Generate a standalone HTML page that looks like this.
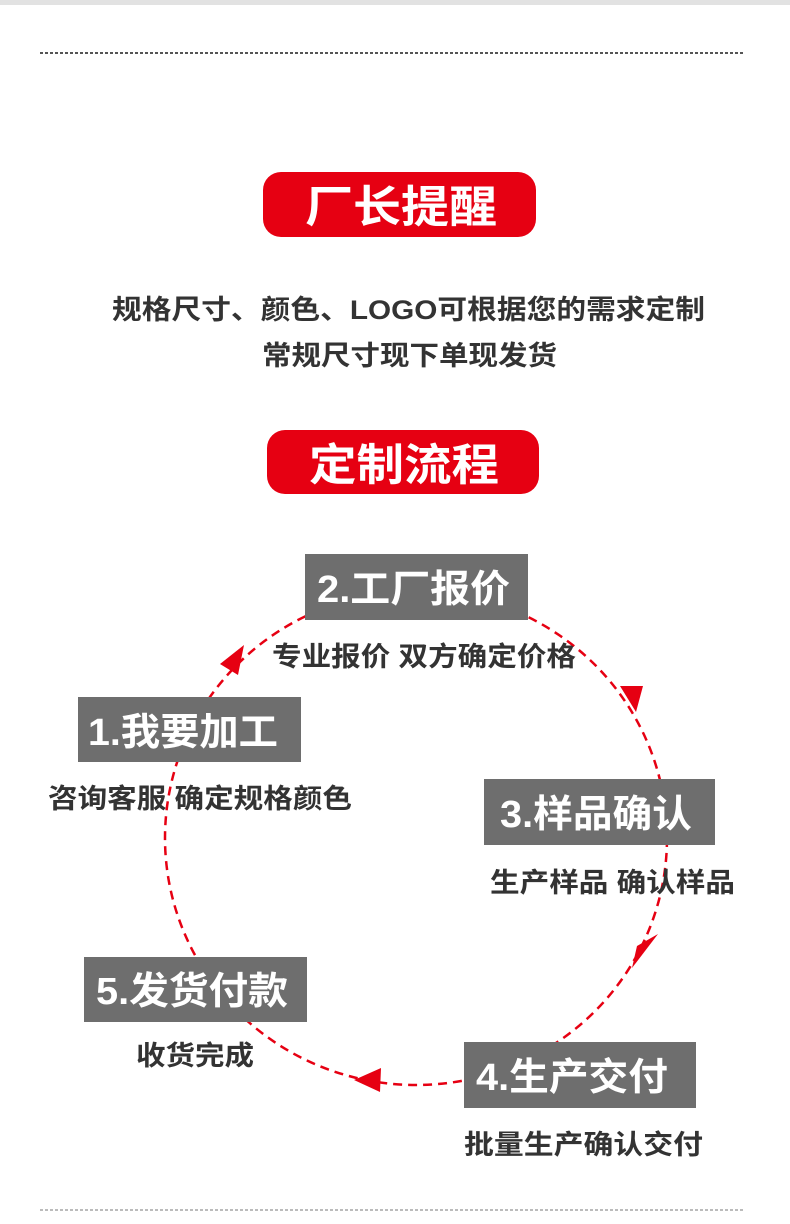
<!DOCTYPE html>
<html><head><meta charset="utf-8"><style>
body{margin:0;background:#fff;}
svg{display:block}
text{font-family:"Liberation Sans","Noto Sans CJK SC",sans-serif;}
</style></head><body>
<svg width="790" height="1224" viewBox="0 0 790 1224" xmlns="http://www.w3.org/2000/svg">
<rect x="0" y="0" width="790" height="5" fill="#e2e2e2"/>
<line x1="40" y1="53" x2="745" y2="53" stroke="#555" stroke-width="2" stroke-dasharray="3,2"/>
<line x1="40" y1="1210" x2="745" y2="1210" stroke="#777" stroke-width="1" stroke-dasharray="3,2"/>

<rect x="263" y="172" width="273" height="65" rx="18" fill="#e60012"/>
<text x="305" y="222" font-size="44" font-weight="bold" fill="#fff" textLength="192" lengthAdjust="spacingAndGlyphs">厂长提醒</text>
<text x="112" y="319" font-size="27" font-weight="bold" fill="#333" textLength="593" lengthAdjust="spacingAndGlyphs">规格尺寸、颜色、LOGO可根据您的需求定制</text>
<text x="262" y="365" font-size="27" font-weight="bold" fill="#333" textLength="295" lengthAdjust="spacingAndGlyphs">常规尺寸现下单现发货</text>
<rect x="267" y="430" width="272" height="64" rx="18" fill="#e60012"/>
<text x="309" y="480" font-size="44" font-weight="bold" fill="#fff" textLength="190" lengthAdjust="spacingAndGlyphs">定制流程</text>

<ellipse cx="416" cy="838" rx="251" ry="247" fill="none" stroke="#e60012" stroke-width="2.5" stroke-dasharray="9,6"/>
<polygon points="244,645 220,664 238,675" fill="#e60012"/>
<polygon points="620,686 643,686 636,712" fill="#e60012"/>
<polygon points="658,934 637,946 632,968" fill="#e60012"/>
<polygon points="354,1080 381,1068 380,1092" fill="#e60012"/>

<g fill="#6e6e6e">
<rect x="305" y="554" width="223" height="66"/>
<rect x="78" y="697" width="223" height="65"/>
<rect x="484" y="779" width="231" height="66"/>
<rect x="84" y="957" width="223" height="65"/>
<rect x="464" y="1042" width="232" height="66"/>
</g>
<g fill="#fff" font-size="38" font-weight="bold">
<text x="317" y="602" textLength="193" lengthAdjust="spacingAndGlyphs">2.工厂报价</text>
<text x="88" y="745" textLength="190" lengthAdjust="spacingAndGlyphs">1.我要加工</text>
<text x="500" y="827" textLength="192" lengthAdjust="spacingAndGlyphs">3.样品确认</text>
<text x="96" y="1004" textLength="192" lengthAdjust="spacingAndGlyphs">5.发货付款</text>
<text x="476" y="1090" textLength="192" lengthAdjust="spacingAndGlyphs">4.生产交付</text>
</g>
<g fill="#333" font-size="27" font-weight="bold">
<text x="272" y="666" textLength="304" lengthAdjust="spacingAndGlyphs">专业报价 双方确定价格</text>
<text x="48" y="808" textLength="304" lengthAdjust="spacingAndGlyphs">咨询客服 确定规格颜色</text>
<text x="490" y="892" textLength="245" lengthAdjust="spacingAndGlyphs">生产样品 确认样品</text>
<text x="136" y="1065" textLength="118" lengthAdjust="spacingAndGlyphs">收货完成</text>
<text x="464" y="1154" textLength="239" lengthAdjust="spacingAndGlyphs">批量生产确认交付</text>
</g>
</svg>
</body></html>
